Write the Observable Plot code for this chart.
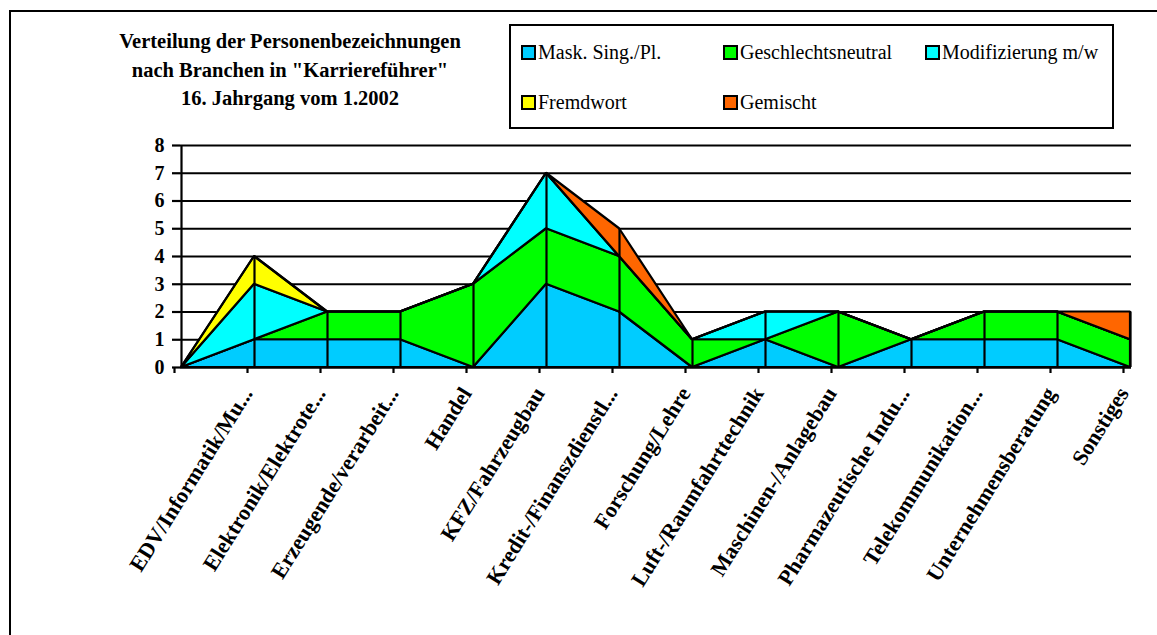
<!DOCTYPE html>
<html>
<head>
<meta charset="utf-8">
<script src="https://cdn.jsdelivr.net/npm/d3@7"></script>
<script src="https://cdn.jsdelivr.net/npm/@observablehq/plot@0.6"></script>
<style>
  html, body { margin: 0; padding: 0; background: #fff; }
  body { width: 1157px; height: 635px; overflow: hidden; position: relative; font-family: "Liberation Serif", "DejaVu Serif", serif; }
  #frame { position: absolute; left: 9px; top: 10px; width: 1200px; height: 700px; border-top: 2px solid #000; border-left: 2px solid #000; }
  #title { position: absolute; left: 88px; width: 404px; top: 27px; text-align: center; font-weight: bold; font-size: 20.5px; line-height: 28.5px; color: #000; }
  #legend { position: absolute; left: 509px; top: 24px; width: 601px; height: 101px; border: 2px solid #000; background: #fff; }
  .item { position: absolute; display: flex; align-items: center; font-size: 20px; color: #000; white-space: nowrap; }
  .sw { width: 11px; height: 11px; border: 2px solid #000; margin-right: 2px; }
  #chart { position: absolute; left: 0; top: 135px; }
</style>
</head>
<body>
<div id="frame"></div>
<div id="title">Verteilung der Personenbezeichnungen<br>nach Branchen in "Karriereführer"<br>16. Jahrgang vom 1.2002</div>
<div id="legend"></div>
<div id="chart"></div>
<script>
// Branchen (the first, unnamed column is the empty start point of the areas)
const categories = ["", "EDV/Informatik/Mu...", "Elektronik/Elektrote...", "Erzeugende/verarbeit...",
  "Handel", "KFZ/Fahrzeugbau", "Kredit-/Finanszdienstl...", "Forschung/Lehre",
  "Luft-/Raumfahrttechnik", "Maschinen-/Anlagebau", "Pharmazeutische Indu...",
  "Telekommunikation...", "Unternehmensberatung", "Sonstiges"];

// Anzahl der Personenbezeichnungen je Kategorie
const maskSingPl         = [0, 1, 1, 1, 0, 3, 2, 0, 1, 0, 1, 1, 1, 0];
const geschlechtsneutral = [0, 0, 1, 1, 3, 2, 2, 1, 0, 2, 0, 1, 1, 1];
const modifizierung      = [0, 2, 0, 0, 0, 2, 0, 0, 1, 0, 0, 0, 0, 0];
const fremdwort          = [0, 1, 0, 0, 0, 0, 0, 0, 0, 0, 0, 0, 0, 0];
const gemischt           = [0, 0, 0, 0, 0, 0, 1, 0, 0, 0, 0, 0, 0, 1];

const seriesNames  = ["Mask. Sing./Pl.", "Geschlechtsneutral", "Modifizierung m/w", "Fremdwort", "Gemischt"];
const seriesValues = [maskSingPl, geschlechtsneutral, modifizierung, fremdwort, gemischt];
const seriesColors = ["#00CCFF", "#00FF00", "#00FFFF", "#FFFF00", "#FF6600"];
const yTicks = [0, 1, 2, 3, 4, 5, 6, 7, 8];

// long table for the stacked areas
const rows = [];
seriesNames.forEach((s, k) => {
  categories.forEach((c, i) => rows.push({branche: c, series: s, value: seriesValues[k][i]}));
});
// column totals for the drop lines
const totals = categories.map((c, i) => ({branche: c, total: d3.sum(seriesValues, v => v[i])}));

const chart = Plot.plot({
  width: 1157,
  height: 500,
  marginLeft: 180,
  marginRight: 26,
  marginTop: 10,
  marginBottom: 268,
  style: {fontFamily: "Liberation Serif, serif", color: "#000", background: "transparent", overflow: "visible"},
  x: {type: "point", domain: categories, padding: 0},
  y: {domain: [0, 8]},
  color: {domain: seriesNames, range: seriesColors},
  marks: [
    Plot.ruleY(yTicks, {stroke: "#000", strokeWidth: 2}),
    Plot.areaY(rows, Plot.stackY({
      x: "branche", y: "value", z: "series", fill: "series", order: seriesNames,
      stroke: "#000", strokeWidth: 2.2, strokeLinejoin: "miter"
    })),
    Plot.ruleX(totals, {x: "branche", y1: 0, y2: "total", stroke: "#000", strokeWidth: 2.2}),
    Plot.ruleX([categories[0]], {stroke: "#000", strokeWidth: 2.2}),
    Plot.ruleY([0], {stroke: "#000", strokeWidth: 2.2}),
    Plot.axisY({ticks: yTicks, tickSize: 8, tickPadding: 8, tickFormat: d => d, fontSize: 20, fontWeight: "bold", strokeWidth: 2.2, label: null}),
    Plot.axisX({ticks: categories, tickSize: 6, tickPadding: 16, tickRotate: -58, dx: -7, fontSize: 22, fontWeight: "bold", strokeWidth: 2.2, label: null})
  ]
});
document.getElementById("chart").appendChild(chart);

// legend inside the box, three columns
const legend = document.getElementById("legend");
const colX = [10, 212, 414];
const rowY = [26, 76];
seriesNames.forEach((s, k) => {
  const item = document.createElement("div");
  item.className = "item";
  item.style.left = colX[k % 3] + "px";
  item.style.top = (rowY[Math.floor(k / 3)] - 14) + "px";
  item.style.height = "28px";
  const sw = document.createElement("div");
  sw.className = "sw";
  sw.style.background = seriesColors[k];
  item.appendChild(sw);
  item.appendChild(document.createTextNode(s));
  legend.appendChild(item);
});
</script>
</body>
</html>
